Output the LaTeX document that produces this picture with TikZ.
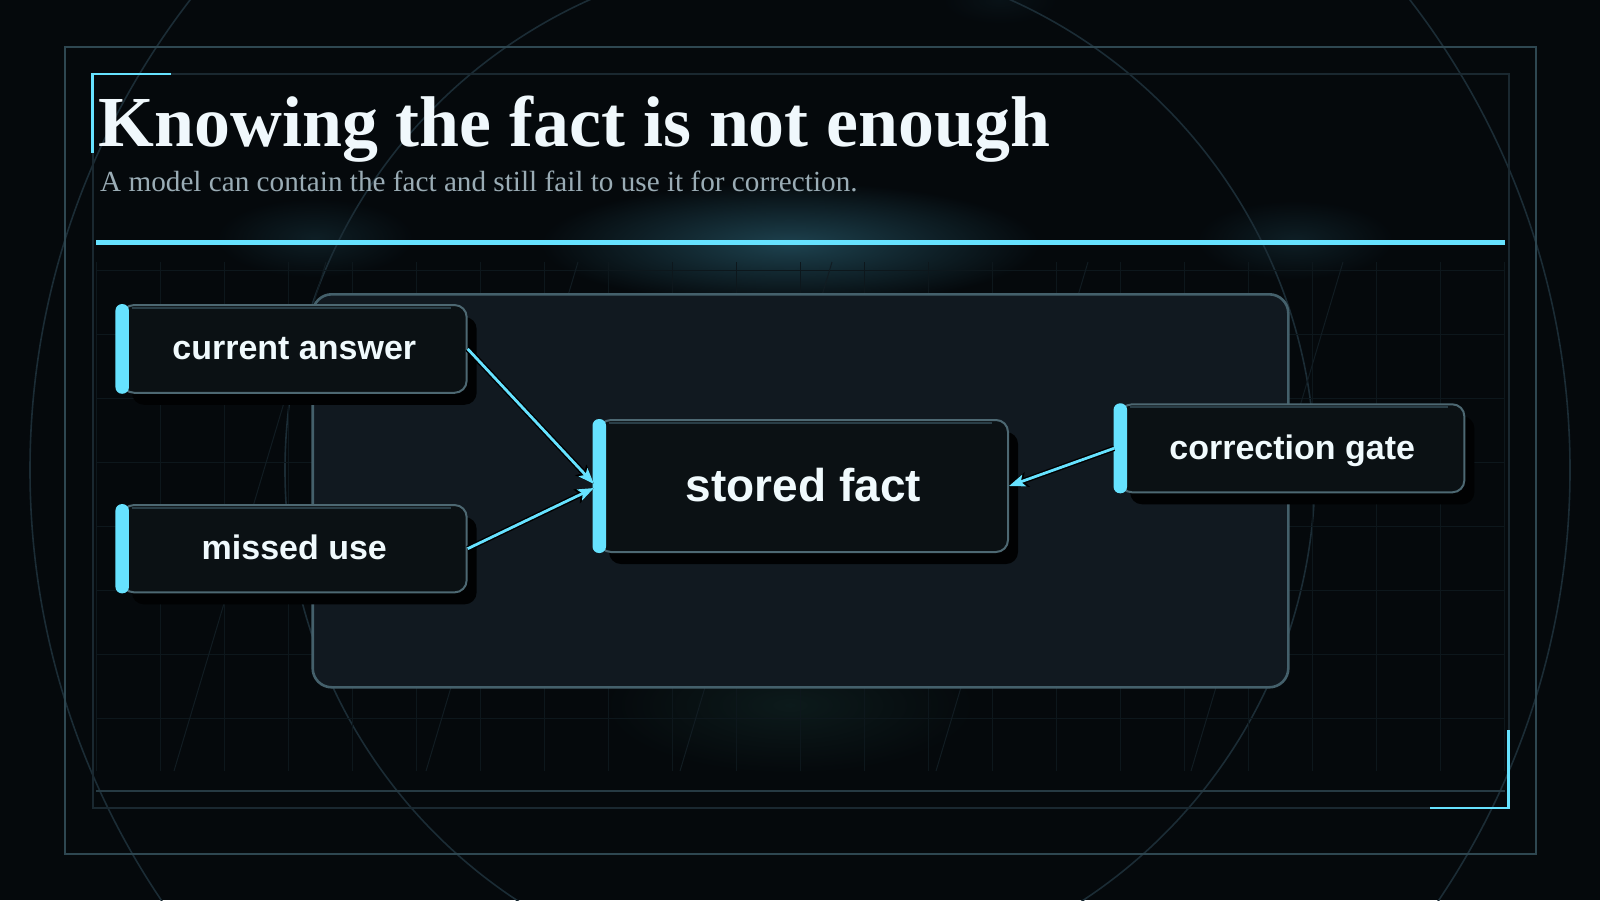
\documentclass[tikz,border=0pt]{standalone}
\usepackage{fontspec}
\setmainfont{Liberation Serif}
\setsansfont{Liberation Sans}
\usetikzlibrary{arrows.meta,shadows,fadings}
\definecolor{bg}{HTML}{05090C}
\definecolor{cyanc}{RGB}{102,226,255}
\definecolor{framec}{HTML}{2E4751}
\definecolor{innerc}{HTML}{1A2830}
\definecolor{footc}{HTML}{263A43}
\definecolor{gridc}{HTML}{0D171C}
\definecolor{slantc}{HTML}{111C22}
\definecolor{circc}{HTML}{1B2C35}
\definecolor{panelfill}{HTML}{111920}
\definecolor{panelline}{HTML}{44606B}
\definecolor{boxfill}{HTML}{0B1114}
\definecolor{boxline}{HTML}{4D6872}
\definecolor{hlc}{HTML}{2A3E47}
\definecolor{shadowc}{HTML}{010203}
\definecolor{nodetxt}{HTML}{F0FAFD}
\definecolor{titlec}{HTML}{F0F8FC}
\definecolor{subc}{HTML}{9AACB5}
\definecolor{glowc}{RGB}{32,72,86}
\definecolor{glowd}{RGB}{16,34,34}
\tikzfading[name=glowfade, inner color=transparent!0, outer color=transparent!100]
\tikzset{
  nodebox/.style={rectangle, rounded corners=12pt, draw=boxline, line width=2pt,
    fill=boxfill, inner sep=0pt, text=nodetxt,
    font=\sffamily\bfseries\fontsize{34}{40}\selectfont,
    text height=22pt, text depth=0pt,
    drop shadow={shadow xshift=10pt, shadow yshift=-12pt, opacity=1, fill=shadowc}},
  bignode/.style={nodebox, font=\sffamily\bfseries\fontsize{46}{52}\selectfont, text height=30pt},
  sidebar/.style={fill=cyanc, rounded corners=6.5pt},
  hline/.style={draw=hlc, line width=2pt},
  arrbg/.style={draw=black, line width=5.6pt, -{Stealth[length=19pt,width=15pt,inset=4pt]}},
  arrfg/.style={draw=cyanc, line width=2.8pt, -{Stealth[length=16pt,width=12pt,inset=3.5pt]}},
  gridline/.style={draw=gridc, line width=1pt},
  slantline/.style={draw=slantc, line width=1pt},
  circline/.style={draw=circc, line width=1.6pt},
  glow/.style={path fading=glowfade}
}
\begin{document}
\begin{tikzpicture}[x=1pt,y=-1pt]
\useasboundingbox (0,0) rectangle (1600,900);
\fill[bg] (0,0) rectangle (1600,900);

% glows
\fill[glowc, glow, opacity=0.9] (790,244) ellipse [x radius=250, y radius=62];
\fill[glowc, glow, opacity=0.35] (315,238) ellipse [x radius=100, y radius=40];
\fill[glowc, glow, opacity=0.35] (1295,240) ellipse [x radius=100, y radius=40];
\fill[glowd, glow, opacity=0.7] (790,705) ellipse [x radius=190, y radius=70];
\fill[glowc, glow, opacity=0.15] (1000,0) ellipse [x radius=60, y radius=25];

% big circles
\draw[circline] (800,470) circle [radius=770];
\draw[circline] (800,470) circle [radius=515];

% grid
\foreach \k in {0,...,22} \draw[gridline] (96+64*\k,262) -- (96+64*\k,771);
\foreach \k in {0,...,7} \draw[gridline] (96,270+64*\k) -- (1505,270+64*\k);
\foreach \t in {326,578,832,1088,1343} \draw[slantline] (\t,262) -- (\t-152,771);

% frames
\draw[framec, line width=2pt] (65,47) rectangle (1536,854);
\draw[innerc, line width=2pt] (92.6,74) rectangle (1508.5,808);
\draw[footc, line width=1.6pt] (96,791) -- (1505,791);
\draw[cyanc, line width=2.6pt] (171,74) -- (92.6,74) -- (92.6,153);
\draw[cyanc, line width=2.6pt] (1508.5,730) -- (1508.5,808) -- (1430,808);

% header rule
\draw[cyanc, line width=4.6pt] (96.4,242.5) -- (1505,242.5);

% titles
\node[anchor=base west, inner sep=0pt, text=titlec,
  font=\bfseries\fontsize{71.8}{80}\selectfont] (title) at (98.5,146.7) {Knowing the fact is not enough};
\node[anchor=base west, inner sep=0pt, text=subc,
  font=\fontsize{29.2}{34}\selectfont] (subtitle) at (100,191.7) {A model can contain the fact and still fail to use it for correction.};

% panel
\draw[fill=panelfill, draw=panelline, line width=2.6pt, rounded corners=19pt] (312.7,294.3) rectangle (1288.3,687.3);

% nodes
\node[nodebox, minimum width=344.7pt, minimum height=87.7pt] (ca) at (294.3,348.9) {current answer};
\node[nodebox, minimum width=344.7pt, minimum height=87.3pt] (mu) at (294.3,548.7) {missed use};
\node[bignode, minimum width=409pt, minimum height=132pt] (sf) at (803.5,486) {stored fact};
\node[nodebox, minimum width=344.3pt, minimum height=88pt] (cg) at (1292.2,448.3) {correction gate};

% top highlight lines
\foreach \n in {ca,mu,sf,cg}
  \draw[hline] ([xshift=11pt,yshift=-4pt]\n.north west) -- ([xshift=-17pt,yshift=-4pt]\n.north east);

% side bars
\foreach \n in {ca,mu,sf,cg}
  \fill[sidebar] ([xshift=-5.5pt]\n.north west) rectangle ([xshift=8pt]\n.south west);

% connectors
\draw[arrbg] (ca.east) -- ([xshift=-4pt,yshift=2pt]sf.west);
\draw[arrbg] (mu.east) -- ([xshift=-4pt,yshift=-2pt]sf.west);
\draw[arrbg] ([xshift=-5pt]cg.west) -- (sf.east);
\draw[arrfg] (ca.east) -- ([xshift=-4pt,yshift=2pt]sf.west);
\draw[arrfg] (mu.east) -- ([xshift=-4pt,yshift=-2pt]sf.west);
\draw[arrfg] ([xshift=-5pt]cg.west) -- (sf.east);
\end{tikzpicture}
\end{document}
